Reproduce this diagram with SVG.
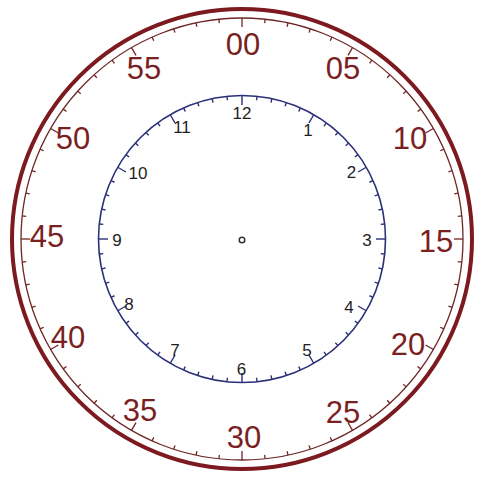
<svg xmlns="http://www.w3.org/2000/svg" xmlns:xlink="http://www.w3.org/1999/xlink" width="478" height="478" viewBox="0 0 478 478">
<style>
.otk{stroke:#6e2626;stroke-width:1.3;}
.itk{stroke:#2b3078;stroke-width:1.4;}
.olab{font-family:"Liberation Sans",Arial,sans-serif;font-size:31px;fill:#7a1f22;text-anchor:middle;}
.ilab{font-family:"Liberation Sans",Arial,sans-serif;font-size:17px;fill:#1e1e1e;text-anchor:middle;}
</style>
<defs>
<line id="oM" class="otk" x1="242" y1="18" x2="242" y2="27"/>
<line id="om" class="otk" x1="242" y1="18" x2="242" y2="22"/>
<line id="iM" class="itk" x1="242" y1="95.5" x2="242" y2="105"/>
<line id="im" class="itk" x1="242" y1="95.5" x2="242" y2="99.5"/>
</defs>
<rect width="478" height="478" fill="#ffffff"/>
<g id="outer-ring">
<circle cx="242" cy="239" r="230" fill="none" stroke="#7d1a1f" stroke-width="4"/>
<circle cx="242" cy="239" r="221" fill="none" stroke="#6e2626" stroke-width="1.3"/>
<g id="outer-ticks">
<use href="#oM" transform="rotate(0 242 239)"/><use href="#om" transform="rotate(6 242 239)"/><use href="#om" transform="rotate(12 242 239)"/><use href="#om" transform="rotate(18 242 239)"/><use href="#om" transform="rotate(24 242 239)"/>
<use href="#oM" transform="rotate(30 242 239)"/><use href="#om" transform="rotate(36 242 239)"/><use href="#om" transform="rotate(42 242 239)"/><use href="#om" transform="rotate(48 242 239)"/><use href="#om" transform="rotate(54 242 239)"/>
<use href="#oM" transform="rotate(60 242 239)"/><use href="#om" transform="rotate(66 242 239)"/><use href="#om" transform="rotate(72 242 239)"/><use href="#om" transform="rotate(78 242 239)"/><use href="#om" transform="rotate(84 242 239)"/>
<use href="#oM" transform="rotate(90 242 239)"/><use href="#om" transform="rotate(96 242 239)"/><use href="#om" transform="rotate(102 242 239)"/><use href="#om" transform="rotate(108 242 239)"/><use href="#om" transform="rotate(114 242 239)"/>
<use href="#oM" transform="rotate(120 242 239)"/><use href="#om" transform="rotate(126 242 239)"/><use href="#om" transform="rotate(132 242 239)"/><use href="#om" transform="rotate(138 242 239)"/><use href="#om" transform="rotate(144 242 239)"/>
<use href="#oM" transform="rotate(150 242 239)"/><use href="#om" transform="rotate(156 242 239)"/><use href="#om" transform="rotate(162 242 239)"/><use href="#om" transform="rotate(168 242 239)"/><use href="#om" transform="rotate(174 242 239)"/>
<use href="#oM" transform="rotate(180 242 239)"/><use href="#om" transform="rotate(186 242 239)"/><use href="#om" transform="rotate(192 242 239)"/><use href="#om" transform="rotate(198 242 239)"/><use href="#om" transform="rotate(204 242 239)"/>
<use href="#oM" transform="rotate(210 242 239)"/><use href="#om" transform="rotate(216 242 239)"/><use href="#om" transform="rotate(222 242 239)"/><use href="#om" transform="rotate(228 242 239)"/><use href="#om" transform="rotate(234 242 239)"/>
<use href="#oM" transform="rotate(240 242 239)"/><use href="#om" transform="rotate(246 242 239)"/><use href="#om" transform="rotate(252 242 239)"/><use href="#om" transform="rotate(258 242 239)"/><use href="#om" transform="rotate(264 242 239)"/>
<use href="#oM" transform="rotate(270 242 239)"/><use href="#om" transform="rotate(276 242 239)"/><use href="#om" transform="rotate(282 242 239)"/><use href="#om" transform="rotate(288 242 239)"/><use href="#om" transform="rotate(294 242 239)"/>
<use href="#oM" transform="rotate(300 242 239)"/><use href="#om" transform="rotate(306 242 239)"/><use href="#om" transform="rotate(312 242 239)"/><use href="#om" transform="rotate(318 242 239)"/><use href="#om" transform="rotate(324 242 239)"/>
<use href="#oM" transform="rotate(330 242 239)"/><use href="#om" transform="rotate(336 242 239)"/><use href="#om" transform="rotate(342 242 239)"/><use href="#om" transform="rotate(348 242 239)"/><use href="#om" transform="rotate(354 242 239)"/>
</g>
<g id="minute-labels">
<text class="olab" x="243" y="54.5">00</text>
<text class="olab" x="343" y="78.5">05</text>
<text class="olab" x="410" y="148.5">10</text>
<text class="olab" x="436" y="252">15</text>
<text class="olab" x="408" y="355">20</text>
<text class="olab" x="343" y="423">25</text>
<text class="olab" x="244" y="447.5">30</text>
<text class="olab" x="140" y="421">35</text>
<text class="olab" x="68" y="347.5">40</text>
<text class="olab" x="47" y="247">45</text>
<text class="olab" x="73" y="149">50</text>
<text class="olab" x="144" y="78.5">55</text>
</g>
</g>
<g id="inner-dial">
<circle cx="242" cy="239" r="143.5" fill="none" stroke="#2b3078" stroke-width="1.6"/>
<g id="inner-ticks">
<use href="#iM" transform="rotate(0 242 239)"/><use href="#im" transform="rotate(6 242 239)"/><use href="#im" transform="rotate(12 242 239)"/><use href="#im" transform="rotate(18 242 239)"/><use href="#im" transform="rotate(24 242 239)"/>
<use href="#iM" transform="rotate(30 242 239)"/><use href="#im" transform="rotate(36 242 239)"/><use href="#im" transform="rotate(42 242 239)"/><use href="#im" transform="rotate(48 242 239)"/><use href="#im" transform="rotate(54 242 239)"/>
<use href="#iM" transform="rotate(60 242 239)"/><use href="#im" transform="rotate(66 242 239)"/><use href="#im" transform="rotate(72 242 239)"/><use href="#im" transform="rotate(78 242 239)"/><use href="#im" transform="rotate(84 242 239)"/>
<use href="#iM" transform="rotate(90 242 239)"/><use href="#im" transform="rotate(96 242 239)"/><use href="#im" transform="rotate(102 242 239)"/><use href="#im" transform="rotate(108 242 239)"/><use href="#im" transform="rotate(114 242 239)"/>
<use href="#iM" transform="rotate(120 242 239)"/><use href="#im" transform="rotate(126 242 239)"/><use href="#im" transform="rotate(132 242 239)"/><use href="#im" transform="rotate(138 242 239)"/><use href="#im" transform="rotate(144 242 239)"/>
<use href="#iM" transform="rotate(150 242 239)"/><use href="#im" transform="rotate(156 242 239)"/><use href="#im" transform="rotate(162 242 239)"/><use href="#im" transform="rotate(168 242 239)"/><use href="#im" transform="rotate(174 242 239)"/>
<use href="#iM" transform="rotate(180 242 239)"/><use href="#im" transform="rotate(186 242 239)"/><use href="#im" transform="rotate(192 242 239)"/><use href="#im" transform="rotate(198 242 239)"/><use href="#im" transform="rotate(204 242 239)"/>
<use href="#iM" transform="rotate(210 242 239)"/><use href="#im" transform="rotate(216 242 239)"/><use href="#im" transform="rotate(222 242 239)"/><use href="#im" transform="rotate(228 242 239)"/><use href="#im" transform="rotate(234 242 239)"/>
<use href="#iM" transform="rotate(240 242 239)"/><use href="#im" transform="rotate(246 242 239)"/><use href="#im" transform="rotate(252 242 239)"/><use href="#im" transform="rotate(258 242 239)"/><use href="#im" transform="rotate(264 242 239)"/>
<use href="#iM" transform="rotate(270 242 239)"/><use href="#im" transform="rotate(276 242 239)"/><use href="#im" transform="rotate(282 242 239)"/><use href="#im" transform="rotate(288 242 239)"/><use href="#im" transform="rotate(294 242 239)"/>
<use href="#iM" transform="rotate(300 242 239)"/><use href="#im" transform="rotate(306 242 239)"/><use href="#im" transform="rotate(312 242 239)"/><use href="#im" transform="rotate(318 242 239)"/><use href="#im" transform="rotate(324 242 239)"/>
<use href="#iM" transform="rotate(330 242 239)"/><use href="#im" transform="rotate(336 242 239)"/><use href="#im" transform="rotate(342 242 239)"/><use href="#im" transform="rotate(348 242 239)"/><use href="#im" transform="rotate(354 242 239)"/>
</g>
<g id="hour-labels">
<text class="ilab" x="242" y="119">12</text>
<text class="ilab" x="308" y="136">1</text>
<text class="ilab" x="351.5" y="177.5">2</text>
<text class="ilab" x="367" y="246">3</text>
<text class="ilab" x="349" y="313">4</text>
<text class="ilab" x="307" y="356">5</text>
<text class="ilab" x="241.5" y="374.5">6</text>
<text class="ilab" x="175" y="356">7</text>
<text class="ilab" x="129" y="309.5">8</text>
<text class="ilab" x="117" y="246">9</text>
<text class="ilab" x="138" y="179">10</text>
<text class="ilab" x="182" y="133">11</text>
</g>
<circle id="center-pin" cx="242" cy="240" r="2.8" fill="#ffffff" stroke="#333333" stroke-width="1.5"/>
</g>
</svg>
